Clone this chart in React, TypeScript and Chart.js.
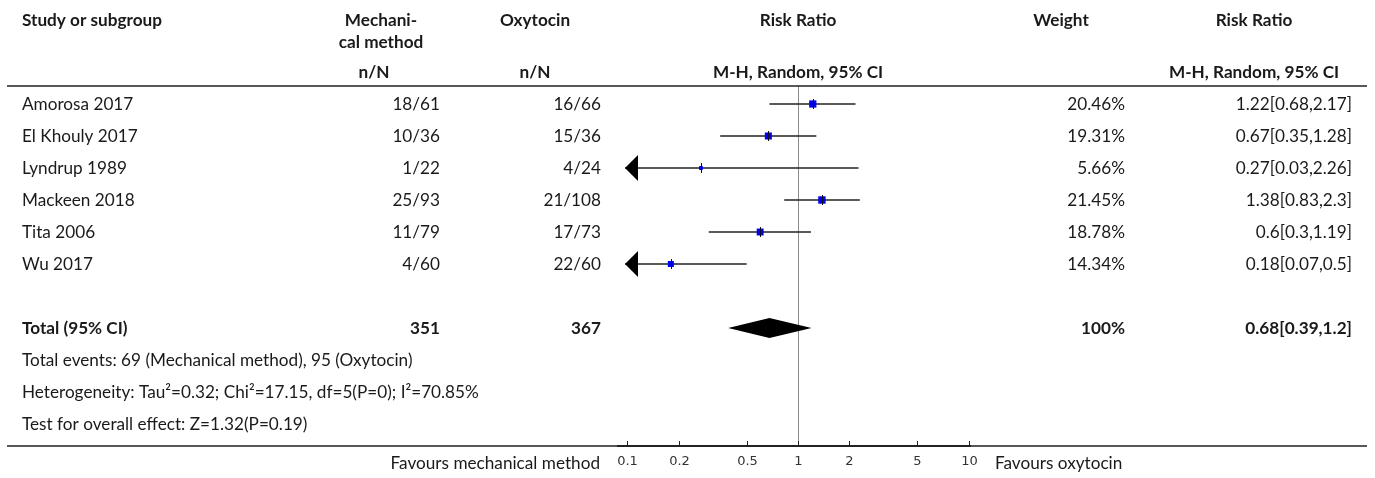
import React, { useEffect, useRef } from 'react';
import { Chart, registerables } from 'chart.js';

Chart.register(...registerables);

// ---------- data ----------
const studies = ['Amorosa 2017', 'El Khouly 2017', 'Lyndrup 1989', 'Mackeen 2018', 'Tita 2006', 'Wu 2017'];
const mechanical = ['18/61', '10/36', '1/22', '25/93', '11/79', '4/60'];
const oxytocin = ['16/66', '15/36', '4/24', '21/108', '17/73', '22/60'];
const riskRatio = [1.22, 0.67, 0.27, 1.38, 0.6, 0.18];
const ciLower = [0.68, 0.35, 0.03, 0.83, 0.3, 0.07];
const ciUpper = [2.17, 1.28, 2.26, 2.3, 1.19, 0.5];
const weights = [20.46, 19.31, 5.66, 21.45, 18.78, 14.34];
const totalMechanical = 351;
const totalOxytocin = 367;
const totalWeight = 100;
const totalRR = 0.68;
const totalLower = 0.39;
const totalUpper = 1.2;
const totalRow = 7;
const axisTicks = [0.1, 0.2, 0.5, 1, 2, 5, 10];
const footnotes = [
  'Total events: 69 (Mechanical method), 95 (Oxytocin)',
  'Heterogeneity: Tau\u00B2=0.32; Chi\u00B2=17.15, df=5(P=0); I\u00B2=70.85%',
  'Test for overall effect: Z=1.32(P=0.19)',
];
const favoursLeft = 'Favours mechanical method';
const favoursRight = 'Favours oxytocin';

// ---------- layout constants ----------
const W = 1375;
const H = 478;
const X_MIN = 0.097;
const X_MAX = 10.3;
const Y_MIN = -0.5625;
const Y_MAX = 10.6875;
const FAMILY = 'Lato, "Noto Sans", sans-serif';
const TEXT = '#1a1a1a';

const fmtCI = (r: number, l: number, u: number) => `${r}[${l},${u}]`;

const forestPlugin = {
  id: 'forest',
  beforeDatasetsDraw(chart: any) {
    const { ctx, chartArea } = chart;
    const xs = chart.scales.x;
    ctx.save();
    // null line at RR = 1
    const x1 = Math.round(xs.getPixelForValue(1)) + 0.5;
    ctx.strokeStyle = '#8c8c8c';
    ctx.lineWidth = 1;
    ctx.beginPath();
    ctx.moveTo(x1, chartArea.top);
    ctx.lineTo(x1, chartArea.bottom);
    ctx.stroke();
    ctx.restore();
  },
  afterDatasetsDraw(chart: any) {
    const { ctx, chartArea } = chart;
    const xs = chart.scales.x;
    const ys = chart.scales.y;
    ctx.save();

    // estimate ticks through squares
    ctx.strokeStyle = '#111';
    ctx.lineWidth = 1;
    riskRatio.forEach((r, i) => {
      const px = Math.round(xs.getPixelForValue(r)) + 0.5;
      const py = ys.getPixelForValue(i);
      ctx.beginPath();
      ctx.moveTo(px, py - 5);
      ctx.lineTo(px, py + 5);
      ctx.stroke();
    });

    // arrows for truncated lower limits
    ctx.fillStyle = '#000';
    ciLower.forEach((l, i) => {
      if (l < X_MIN) {
        const tip = chartArea.left;
        const py = ys.getPixelForValue(i);
        ctx.beginPath();
        ctx.moveTo(tip, py);
        ctx.lineTo(tip + 13, py - 13);
        ctx.lineTo(tip + 13, py + 13);
        ctx.closePath();
        ctx.fill();
      }
    });

    // pooled diamond
    const dy = ys.getPixelForValue(totalRow);
    ctx.beginPath();
    ctx.moveTo(xs.getPixelForValue(totalLower), dy);
    ctx.lineTo(xs.getPixelForValue(totalRR), dy - 10);
    ctx.lineTo(xs.getPixelForValue(totalUpper), dy);
    ctx.lineTo(xs.getPixelForValue(totalRR), dy + 10);
    ctx.closePath();
    ctx.fill();

    ctx.restore();
  },
  afterDraw(chart: any) {
    const { ctx, chartArea } = chart;
    const xs = chart.scales.x;
    const ys = chart.scales.y;
    ctx.save();

    // fit font size to reference width of heterogeneity line
    ctx.font = `100px ${FAMILY}`;
    const wRef = ctx.measureText(footnotes[1]).width;
    const fs = Math.min(18, (100 * 457) / wRef);
    const reg = `${fs.toFixed(2)}px ${FAMILY}`;
    const bold = `bold ${fs.toFixed(2)}px ${FAMILY}`;

    const text = (s: string, x: number, y: number, align: CanvasTextAlign, font: string) => {
      ctx.font = font;
      ctx.textAlign = align;
      ctx.textBaseline = 'middle';
      ctx.fillStyle = TEXT;
      ctx.fillText(s, x, y);
    };

    // rules
    ctx.strokeStyle = '#222';
    ctx.lineWidth = 1.5;
    ctx.beginPath();
    ctx.moveTo(7, chartArea.top);
    ctx.lineTo(1367, chartArea.top);
    ctx.moveTo(7, chartArea.bottom);
    ctx.lineTo(1367, chartArea.bottom);
    ctx.stroke();
    ctx.lineWidth = 2;
    ctx.beginPath();
    ctx.moveTo(xs.getPixelForValue(X_MIN) - 8, chartArea.bottom);
    ctx.lineTo(xs.getPixelForValue(X_MAX), chartArea.bottom);
    ctx.stroke();

    // axis ticks + labels
    ctx.lineWidth = 1;
    axisTicks.forEach((t) => {
      const px = Math.round(xs.getPixelForValue(t)) + 0.5;
      ctx.beginPath();
      ctx.moveTo(px, chartArea.bottom - 5);
      ctx.lineTo(px, chartArea.bottom);
      ctx.stroke();
      ctx.font = '13px "DejaVu Sans", sans-serif';
      ctx.textAlign = 'center';
      ctx.textBaseline = 'middle';
      ctx.fillStyle = '#333';
      ctx.fillText(String(t), px, chartArea.bottom + 16);
    });

    // headers
    text('Study or subgroup', 22, 20, 'left', bold);
    text('Mechani-', 381, 20, 'center', bold);
    text('cal method', 381, 42, 'center', bold);
    text('n/N', 374, 72, 'center', bold);
    text('Oxytocin', 535, 20, 'center', bold);
    text('n/N', 535, 72, 'center', bold);
    text('Risk Ratio', xs.getPixelForValue(1), 20, 'center', bold);
    text('M-H, Random, 95% CI', xs.getPixelForValue(1), 72, 'center', bold);
    text('Weight', 1061, 20, 'center', bold);
    text('Risk Ratio', 1254, 20, 'center', bold);
    text('M-H, Random, 95% CI', 1254, 72, 'center', bold);

    // study rows
    studies.forEach((s, i) => {
      const py = ys.getPixelForValue(i);
      text(s, 22, py, 'left', reg);
      text(mechanical[i], 440, py, 'right', reg);
      text(oxytocin[i], 601, py, 'right', reg);
      text(`${weights[i]}%`, 1125, py, 'right', reg);
      text(fmtCI(riskRatio[i], ciLower[i], ciUpper[i]), 1352, py, 'right', reg);
    });

    // total row
    const ty = ys.getPixelForValue(totalRow);
    text('Total (95% CI)', 22, ty, 'left', bold);
    text(String(totalMechanical), 440, ty, 'right', bold);
    text(String(totalOxytocin), 601, ty, 'right', bold);
    text(`${totalWeight}%`, 1125, ty, 'right', bold);
    text(fmtCI(totalRR, totalLower, totalUpper), 1352, ty, 'right', bold);

    footnotes.forEach((f, k) => {
      text(f, 22, ys.getPixelForValue(totalRow + 1 + k), 'left', reg);
    });

    // favours labels
    text(favoursLeft, 600, chartArea.bottom + 17, 'right', reg);
    text(favoursRight, 995, chartArea.bottom + 17, 'left', reg);

    ctx.restore();
  },
};

export default function App() {
  const ref = useRef<HTMLCanvasElement | null>(null);

  useEffect(() => {
    document.body.style.margin = '0';
    if (!ref.current) return;

    const squares = {
      label: 'Risk ratio',
      data: riskRatio.map((r, i) => ({ x: r, y: i })),
      pointStyle: 'rect',
      pointRadius: weights.map((w) => (1.6 * Math.sqrt(w)) / Math.SQRT2),
      backgroundColor: '#0000ee',
      borderColor: '#0000ee',
      borderWidth: 0,
      showLine: false,
    };

    const ciLines = studies.map((s, i) => ({
      label: s,
      data: [
        { x: ciLower[i], y: i },
        { x: ciUpper[i], y: i },
      ],
      showLine: true,
      borderColor: '#222',
      borderWidth: 1.3,
      pointRadius: 0,
    }));

    const chart = new Chart(ref.current, {
      type: 'scatter',
      data: { datasets: [squares, ...ciLines] as any },
      options: {
        animation: false,
        responsive: false,
        events: [],
        layout: { padding: { left: 625, right: W - 971, top: 86, bottom: H - 446 } },
        plugins: { legend: { display: false }, tooltip: { enabled: false } },
        scales: {
          x: { type: 'logarithmic', min: X_MIN, max: X_MAX, display: false },
          y: { type: 'linear', min: Y_MIN, max: Y_MAX, reverse: true, display: false },
        },
      },
      plugins: [forestPlugin],
    });

    return () => chart.destroy();
  }, []);

  return (
    <div style={{ position: 'fixed', left: 0, top: 0, width: W, height: H, background: '#fff' }}>
      <canvas ref={ref} width={W} height={H} />
    </div>
  );
}
